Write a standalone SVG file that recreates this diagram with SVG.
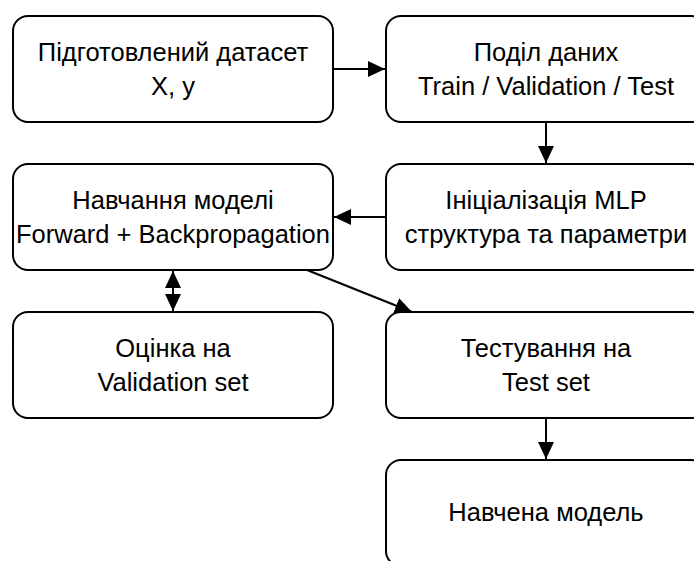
<svg xmlns="http://www.w3.org/2000/svg" width="694" height="561" viewBox="0 0 694 561">
  <style>
    .box { fill: #ffffff; stroke: #000000; stroke-width: 2; }
    .lbl { font-family: "Liberation Sans", Arial, sans-serif; font-size: 25.5px; fill: #000000; text-anchor: middle; }
    .edge { fill: none; stroke: #000000; stroke-width: 2; }
  </style>
  <defs>
    <marker id="arrow" viewBox="0 0 17 16" refX="17" refY="8" markerWidth="17" markerHeight="16" markerUnits="userSpaceOnUse" orient="auto-start-reverse">
      <path d="M0,0 L17,8 L0,16 Z" fill="#000000"/>
    </marker>
  </defs>
  <rect width="694" height="561" fill="#ffffff"/>

  <g id="connectors">
    <line class="edge" x1="333" y1="69" x2="385" y2="69" marker-end="url(#arrow)"/>
    <line class="edge" x1="546" y1="122" x2="546" y2="163" marker-end="url(#arrow)"/>
    <line class="edge" x1="386" y1="217" x2="334" y2="217" marker-end="url(#arrow)"/>
    <line class="edge" x1="173" y1="271" x2="173" y2="311" marker-start="url(#arrow)" marker-end="url(#arrow)"/>
    <line class="edge" x1="307" y1="270" x2="412" y2="312" marker-end="url(#arrow)"/>
    <line class="edge" x1="546" y1="418" x2="546" y2="459" marker-end="url(#arrow)"/>
  </g>

  <g id="dataset">
    <rect class="box" x="13" y="16" width="320" height="106" rx="15"/>
    <text class="lbl" x="173" y="61">Підготовлений датасет</text>
    <text class="lbl" x="173" y="95">X, y</text>
  </g>
  <g id="split">
    <rect class="box" x="386" y="16" width="320" height="106" rx="15"/>
    <text class="lbl" x="546" y="61">Поділ даних</text>
    <text class="lbl" x="546" y="95">Train / Validation / Test</text>
  </g>
  <g id="init">
    <rect class="box" x="386" y="164" width="320" height="106" rx="15"/>
    <text class="lbl" x="546" y="209">Ініціалізація MLP</text>
    <text class="lbl" x="546" y="243">структура та параметри</text>
  </g>
  <g id="train">
    <rect class="box" x="13" y="164" width="320" height="106" rx="15"/>
    <text class="lbl" x="173" y="209">Навчання моделі</text>
    <text class="lbl" x="173" y="243">Forward + Backpropagation</text>
  </g>
  <g id="validate">
    <rect class="box" x="13" y="312" width="320" height="106" rx="15"/>
    <text class="lbl" x="173" y="357">Оцінка на</text>
    <text class="lbl" x="173" y="391">Validation set</text>
  </g>
  <g id="test">
    <rect class="box" x="386" y="312" width="320" height="106" rx="15"/>
    <text class="lbl" x="546" y="357">Тестування на</text>
    <text class="lbl" x="546" y="391">Test set</text>
  </g>
  <g id="model">
    <rect class="box" x="386" y="460" width="320" height="106" rx="15"/>
    <text class="lbl" x="546" y="521">Навчена модель</text>
  </g>
</svg>
